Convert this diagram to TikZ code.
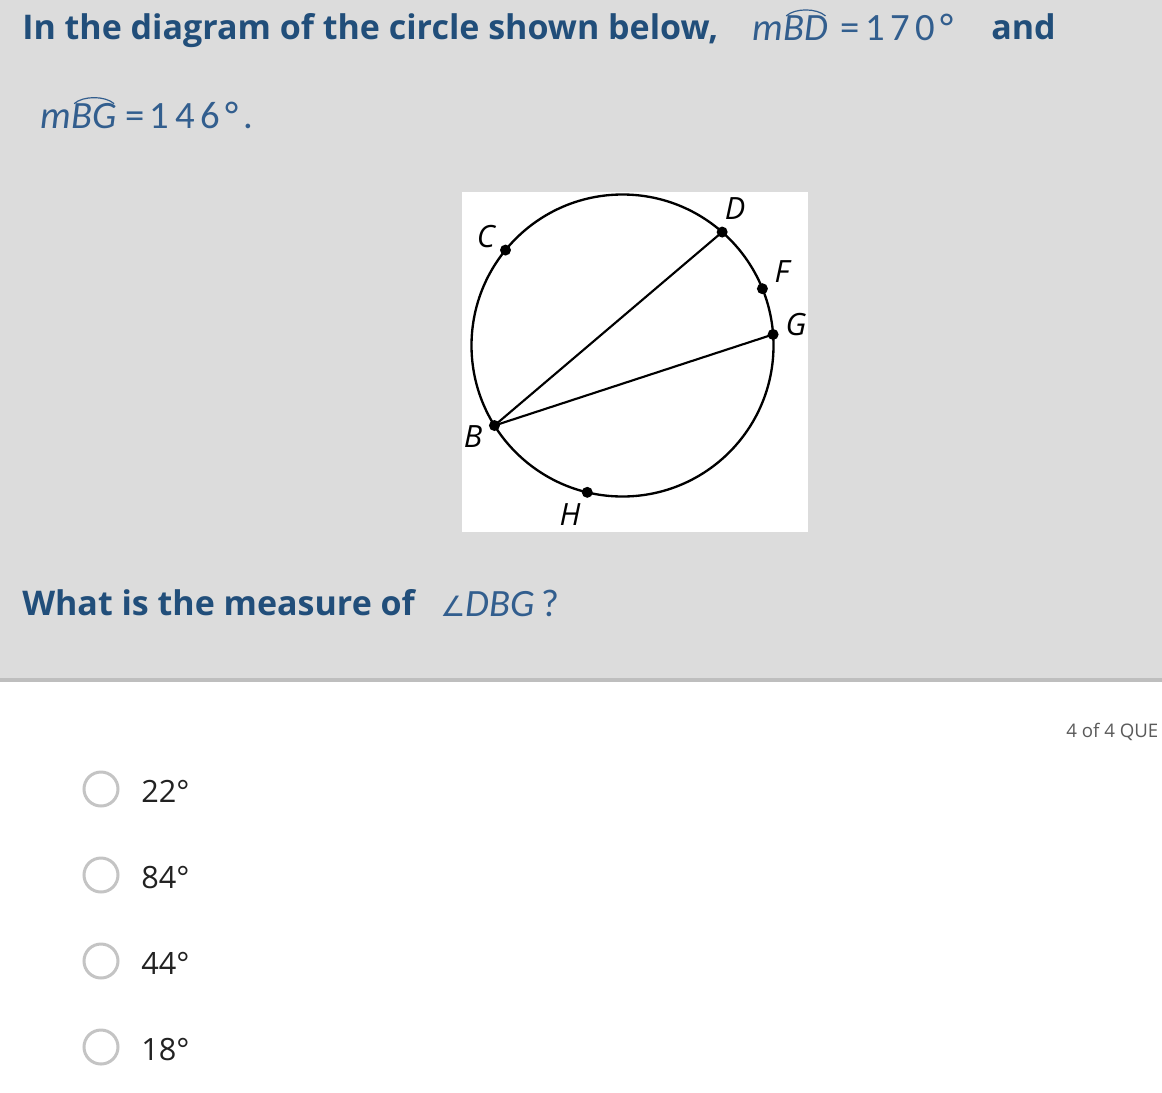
\documentclass[tikz,border=0pt]{standalone}
\usepackage{fontspec}
\setmainfont{Open Sans}
\newfontfamily\calfont{Carlito}
\newfontfamily\calspaced{Carlito}[LetterSpace=14]
\newfontfamily\dvsfont{DejaVu Sans}
\usetikzlibrary{positioning}
\usetikzlibrary{calc}

\definecolor{panelgray}{RGB}{220,220,220}
\definecolor{rulegray}{RGB}{190,190,190}
\definecolor{qblue}{RGB}{33,78,122}
\definecolor{mblue}{RGB}{50,94,142}
\definecolor{radiogray}{RGB}{196,196,196}
\definecolor{ansblack}{RGB}{34,34,34}
\definecolor{countgray}{RGB}{90,90,90}

\tikzset{
  qtext/.style={text=qblue, font=\bfseries\fontsize{25.5}{30}\selectfont, inner sep=0pt, anchor=base west},
  mtext/.style={text=mblue, font=\calfont\fontsize{29}{32}\selectfont, inner sep=0pt, anchor=base west},
  arcline/.style={draw=mblue, line width=0.9pt},
  ptlabel/.style={font=\itshape\fontsize{23}{27}\selectfont, inner sep=0.75pt},
  ptdot/.style={fill=black},
  radio/.style={draw=radiogray, line width=2.25pt},
  answer/.style={text=ansblack, font=\fontsize{23}{27}\selectfont, inner sep=0pt, anchor=base west},
}

\begin{document}
\begin{tikzpicture}[x=0.75pt,y=0.75pt,yscale=-1,xscale=1]
\useasboundingbox (0,0) rectangle (1162,1092);
% panels
\fill[panelgray] (0,0) rectangle (1162,678);
\fill[rulegray] (0,678) rectangle (1162,682);
\fill[white] (0,682) rectangle (1162,1092);
\fill[white] (462,192) rectangle (808,532);

% question
\node[qtext] (line1) at (22,39) {In the diagram of the circle shown below,};
\node[mtext] (m1) at (752,40) {\itshape m};
\node[mtext] (arcBD) at (m1.base east) {\itshape BD};
\node[mtext] (val1) at ($(arcBD.base east)+(12,0)$) {\calspaced =170°};
\node[qtext] (and1) at (991,39) {and};
\draw[arcline] ($(arcBD.north west)+(3,1)$) .. controls ($(arcBD.north west)+(12,-7)$) and ($(arcBD.north east)+(-12,-7)$) .. ($(arcBD.north east)+(-3,1)$);

\node[mtext] (m2) at (40,128) {\itshape m};
\node[mtext] (arcBG) at (m2.base east) {\itshape BG};
\node[mtext] (val2) at ($(arcBG.base east)+(8,0)$) {\calspaced =146°.};
\draw[arcline] ($(arcBG.north west)+(3,1)$) .. controls ($(arcBG.north west)+(12,-7)$) and ($(arcBG.north east)+(-12,-7)$) .. ($(arcBG.north east)+(-3,1)$);

% circle
\coordinate (O) at (622.5,345.5);
\draw[line width=1.75pt] (O) circle (151);
\coordinate (B) at ($(O)+(148:151)$);
\coordinate (D) at ($(O)+(-48.7:151)$);
\coordinate (F) at ($(O)+(-22.1:151)$);
\coordinate (G) at ($(O)+(-4.2:151)$);
\coordinate (C) at ($(O)+(-140.8:151)$);
\coordinate (H) at ($(O)+(103.5:151)$);
\draw[line width=1.6pt] (B) -- (D);
\draw[line width=1.6pt] (B) -- (G);
\foreach \p in {B,C,D,F,G,H} \fill[ptdot] (\p) circle (5.5);
\node[ptlabel] (lblC) at (486,237) {C};
\node[ptlabel] (lblD) at (735,209) {D};
\node[ptlabel] (lblF) at (782,272) {F};
\node[ptlabel] (lblG) at (796,325) {G};
\node[ptlabel] (lblB) at (473,437) {B};
\node[ptlabel] (lblH) at (570,515) {H};

\node[qtext] (ask) at (22,615) {What is the measure of};
\node[mtext] (angsym) at (440,616) {\dvsfont\fontsize{21}{24}\selectfont ∠};
\node[mtext] (dbg) at (angsym.base east) {\itshape DBG};
\node[mtext] (qmark) at ($(dbg.base east)+(6,0)$) {?};

% answers
\node[text=countgray, font=\fontsize{14}{16}\selectfont, inner sep=0pt, anchor=base west] (count) at (1066,737) {4 of 4 QUE};
\foreach \y/\v [count=\i] in {789/22,875/84,961/44,1047/18} {
  \draw[radio] (101,\y) circle (17);
  \node[answer] (ans\i) at (141,\y+13) {\v°};
}
\end{tikzpicture}
\end{document}
